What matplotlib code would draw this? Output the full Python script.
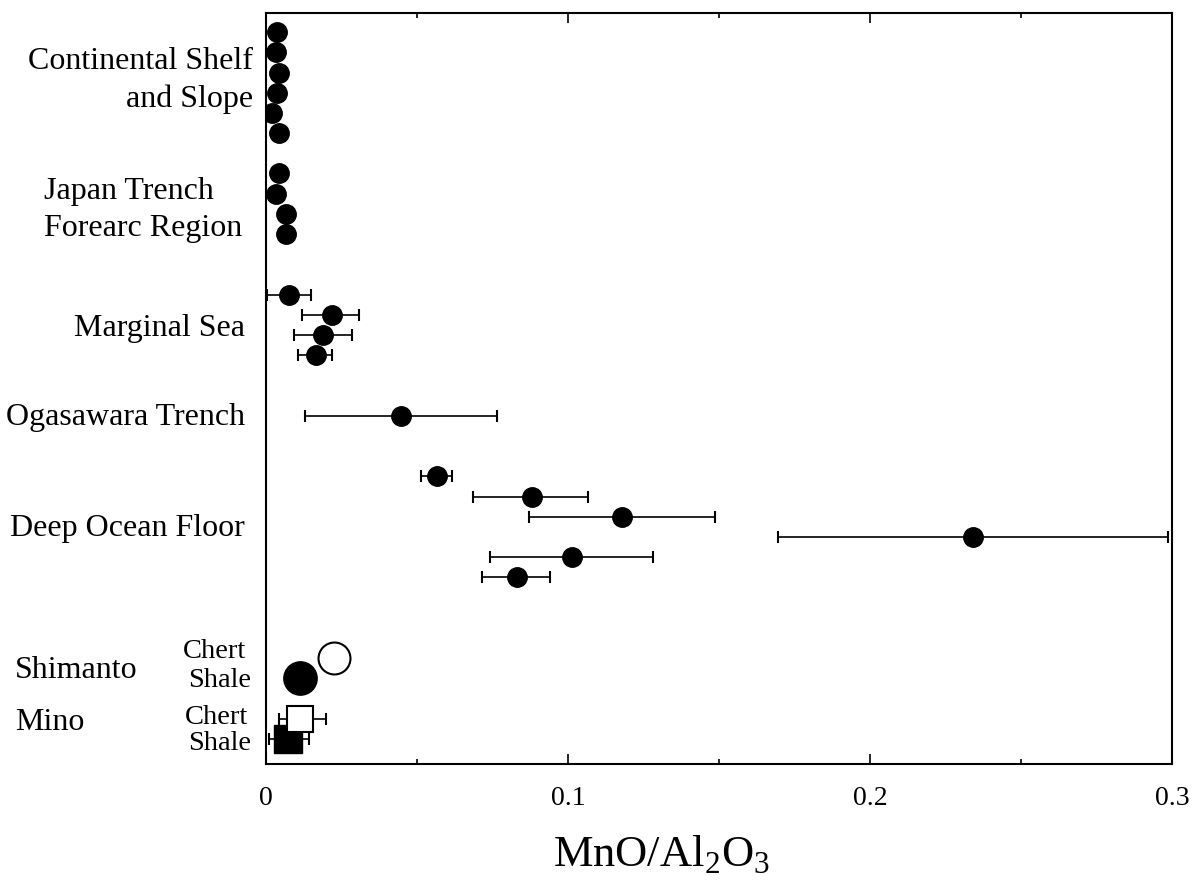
import matplotlib
matplotlib.use('Agg')
import matplotlib.pyplot as plt
from matplotlib.ticker import MultipleLocator

plt.rcParams['font.family'] = ['Liberation Serif', 'DejaVu Serif']
plt.rcParams['mathtext.fontset'] = 'custom'
plt.rcParams['mathtext.rm'] = 'Liberation Serif'

# row positions (top to bottom) and MnO/Al2O3 values
shelf_rows = [0, 1, 2, 3, 4, 5]
shelf_x = [0.0036, 0.0033, 0.0044, 0.0036, 0.0020, 0.0044]

forearc_rows = [7, 8, 9, 10]
forearc_x = [0.0044, 0.0033, 0.0066, 0.0066]

marginal_rows = [13, 14, 15, 16]
marginal_x = [0.0077, 0.0219, 0.0190, 0.0166]
marginal_lo = [0.0004, 0.0120, 0.0091, 0.0107]
marginal_hi = [0.0150, 0.0309, 0.0286, 0.0219]

ogasawara_rows = [19]
ogasawara_x = [0.0448]
ogasawara_lo = [0.0130]
ogasawara_hi = [0.0766]

deep_rows = [22, 23, 24, 25, 26, 27]
deep_x = [0.0565, 0.0881, 0.1179, 0.2342, 0.1013, 0.0830]
deep_lo = [0.0513, 0.0684, 0.0872, 0.1694, 0.0743, 0.0715]
deep_hi = [0.0615, 0.1066, 0.1487, 0.2988, 0.1283, 0.0940]

shimanto_chert = (31, 0.0226)
shimanto_shale = (32, 0.0114)
mino_chert = (34, 0.0112, 0.0044, 0.0199)
mino_shale = (35, 0.0073, 0.0011, 0.0143)

fig = plt.figure(figsize=(11.94, 8.88), dpi=100)
ax = fig.add_axes([0.2228, 0.1396, 0.7588, 0.8458])

dot = dict(marker='o', ms=14, color='black', ls='none')
ax.plot(shelf_x, shelf_rows, **dot)
ax.plot(forearc_x, forearc_rows, **dot)

eb = dict(fmt='o', ms=14, color='black', ecolor='black', elinewidth=1.2,
          capsize=4.5, capthick=1.5)


def with_err(x, lo, hi, rows):
    xerr = [[v - l for v, l in zip(x, lo)], [h - v for v, h in zip(x, hi)]]
    ax.errorbar(x, rows, xerr=xerr, **eb)


with_err(marginal_x, marginal_lo, marginal_hi, marginal_rows)
with_err(ogasawara_x, ogasawara_lo, ogasawara_hi, ogasawara_rows)
with_err(deep_x, deep_lo, deep_hi, deep_rows)

ax.plot(shimanto_chert[1], shimanto_chert[0], marker='o', ms=23,
        mfc='white', mec='black', mew=1.5, ls='none')
ax.plot(shimanto_shale[1], shimanto_shale[0], marker='o', ms=24,
        color='black', ls='none')

r, v, lo, hi = mino_shale
ax.errorbar([v], [r], xerr=[[v - lo], [hi - v]], fmt='s', ms=20,
            mfc='black', mec='black', ecolor='black', elinewidth=1.2,
            capsize=4.5, capthick=1.5, zorder=3)
r, v, lo, hi = mino_chert
ax.errorbar([v], [r], xerr=[[v - lo], [hi - v]], fmt='s', ms=19,
            mfc='white', mec='black', mew=1.5, ecolor='black',
            elinewidth=1.2, capsize=4.5, capthick=1.5, zorder=4)

ax.set_xlim(0, 0.3)
ax.set_ylim(36.25, -0.95)
ax.set_yticks([])
ax.xaxis.set_major_locator(MultipleLocator(0.1))
ax.xaxis.set_minor_locator(MultipleLocator(0.05))
ax.set_xticks([0, 0.1, 0.2, 0.3])
ax.set_xticklabels(['0', '0.1', '0.2', '0.3'])
ax.tick_params(axis='x', which='both', direction='in', top=True, bottom=True,
               labelsize=20, pad=16)
ax.tick_params(axis='x', which='major', length=7, width=1.2)
ax.tick_params(axis='x', which='minor', length=3.5, width=1.2)
for s in ax.spines.values():
    s.set_linewidth(1.5)

yt = ax.get_yaxis_transform()
fs = 23
ax.text(-0.0143, 2.4, 'Continental Shelf\nand Slope', transform=yt,
        ha='right', va='center', fontsize=fs, multialignment='right',
        linespacing=1.38)
ax.text(-0.245, 8.8, 'Japan Trench\nForearc Region', transform=yt,
        ha='left', va='center', fontsize=fs, multialignment='left',
        linespacing=1.38)
ax.text(-0.023, 14.7, 'Marginal Sea', transform=yt, ha='right',
        va='center', fontsize=fs)
ax.text(-0.023, 19.1, 'Ogasawara Trench', transform=yt, ha='right',
        va='center', fontsize=fs)
ax.text(-0.023, 24.6, 'Deep Ocean Floor', transform=yt, ha='right',
        va='center', fontsize=fs)
ax.text(-0.277, 31.6, 'Shimanto', transform=yt, ha='left',
        va='center', fontsize=fs)
ax.text(-0.277, 34.2, 'Mino', transform=yt, ha='left',
        va='center', fontsize=fs)
fs2 = 20.5
ax.text(-0.022, 30.7, 'Chert', transform=yt, ha='right',
        va='center', fontsize=fs2)
ax.text(-0.016, 32.1, 'Shale', transform=yt, ha='right',
        va='center', fontsize=fs2)
ax.text(-0.020, 33.95, 'Chert', transform=yt, ha='right',
        va='center', fontsize=fs2)
ax.text(-0.016, 35.25, 'Shale', transform=yt, ha='right',
        va='center', fontsize=fs2)

fig.text(0.5544, 0.037, r'MnO/Al$_2$O$_3$', ha='center', va='center',
         fontsize=32)

fig.savefig('out.png', dpi=100)
